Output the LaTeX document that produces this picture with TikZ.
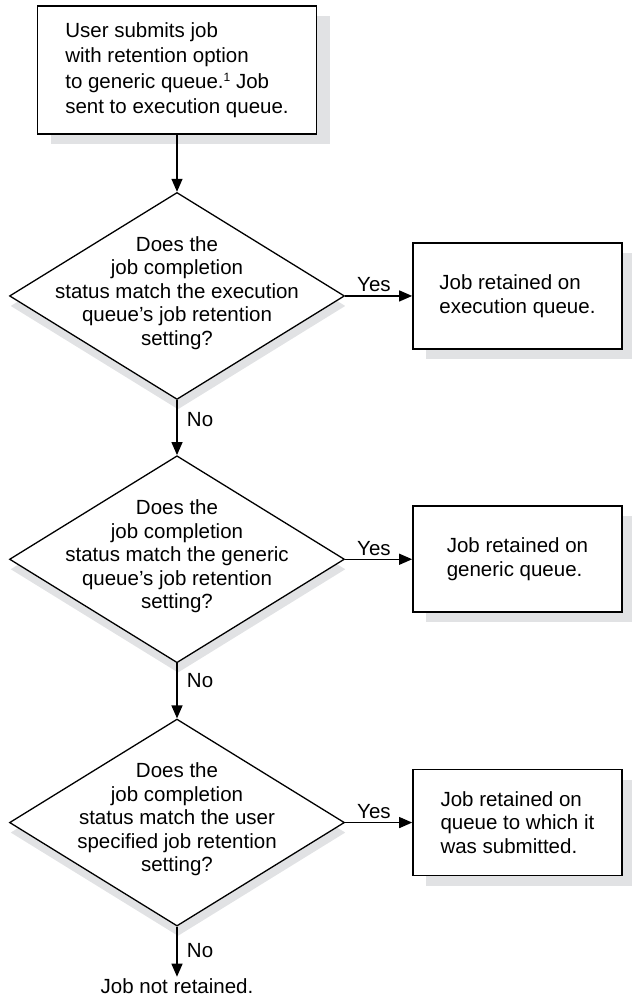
\documentclass[tikz,border=0pt]{standalone}
\usepackage{fontspec}
\setmainfont{Liberation Sans}
\usepackage{tikz}
\usetikzlibrary{shapes.geometric}
\usetikzlibrary{positioning}
\usetikzlibrary{shadows}
\usetikzlibrary{arrows.meta}

\definecolor{shadowgray}{RGB}{225,226,228}
\newcommand{\fnmark}[1]{\raisebox{7pt}{\fontsize{12}{12}\selectfont #1}}

\begin{document}
\begin{tikzpicture}[x=1pt,y=-1pt,
        font=\fontsize{20.5}{23.5}\selectfont,
        box/.style={draw, line width=1.6pt, fill=white, inner sep=0pt, align=left,
            drop shadow={fill=shadowgray, opacity=1, shadow xshift=13pt, shadow yshift=-10pt}},
        decision/.style={diamond, draw, line width=1.3pt, fill=white, inner sep=0pt,
            minimum width=335pt, minimum height=207pt,
            drop shadow={fill=shadowgray, opacity=1, shadow xshift=1pt, shadow yshift=-10pt}},
        question/.style={align=center, inner sep=0pt},
        flow/.style={line width=1.3pt, -{Triangle[length=13pt,width=11pt]}},
        node distance=55pt]
        \useasboundingbox (0,0) rectangle (632,1002);

        % Nodes
        \node[box, minimum width=279pt, minimum height=128pt,
            font=\fontsize{20.5}{25.5}\selectfont] (submit) at (177,70)
            {User submits job\\with retention option\\to generic queue.\fnmark{1} Job\\sent to execution queue.};

        \node[decision, below=57pt of submit]  (execq) {};
        \node[question] (execqtext) at ([yshift=3pt]execq.center)
            {Does the\\job completion\\status match the execution\\queue’s job retention\\setting?};
        \node[box, right=67pt of execq, minimum width=209pt, minimum height=106pt] (execkeep)
            {Job retained on\\execution queue.};

        \node[decision, below=of execq]  (genq) {};
        \node[question] (genqtext) at ([yshift=3pt]genq.center)
            {Does the\\job completion\\status match the generic\\queue’s job retention\\setting?};
        \node[box, right=67pt of genq, minimum width=209pt, minimum height=106pt] (genkeep)
            {Job retained on\\generic queue.};

        \node[decision, below=of genq]  (userq) {};
        \node[question] (userqtext) at ([yshift=3pt]userq.center)
            {Does the\\job completion\\status match the user\\specified job retention\\setting?};
        \node[box, right=67pt of userq, minimum width=209pt, minimum height=106pt] (userkeep)
            {Job retained on\\queue to which it\\was submitted.};

        \node[inner sep=2pt, below=50pt of userq]  (lost) {Job not retained.};

        % Edges
        \draw[flow] (submit) -- (execq);
        \draw[flow] (execq) -- node[above, pos=0.43] {Yes} (execkeep);
        \draw[flow] (execq) -- node[right=6pt, pos=0.36] {No} (genq);
        \draw[flow] (genq) -- node[above, pos=0.43] {Yes} (genkeep);
        \draw[flow] (genq) -- node[right=6pt, pos=0.32] {No} (userq);
        \draw[flow] (userq) -- node[above, pos=0.43] {Yes} (userkeep);
        \draw[flow] (userq) -- node[right=6pt, pos=0.47] {No} (lost);
    \end{tikzpicture}
\end{document}
